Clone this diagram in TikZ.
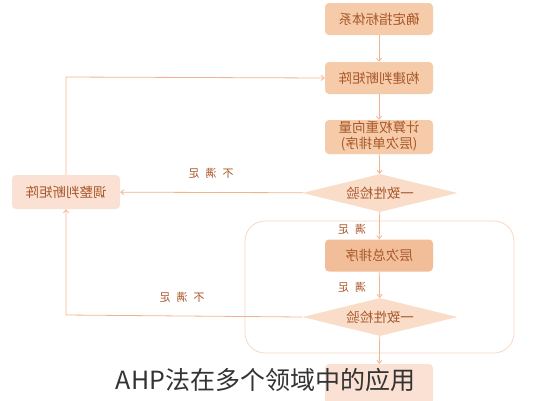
\documentclass[tikz,border=0pt]{standalone}
\usepackage{fontspec}
\setmainfont{Noto Sans CJK SC}
\newfontfamily\cjk{Noto Sans CJK SC}
\usetikzlibrary{shapes.geometric,arrows.meta}
\definecolor{boxfill}{HTML}{F5CBA9}
\definecolor{boxdark}{HTML}{F2BE99}
\definecolor{diafill}{HTML}{FADDC9}
\definecolor{leftfill}{HTML}{FBE1D3}
\definecolor{linecol}{HTML}{F0B48E}
\definecolor{framecol}{HTML}{F7D8C4}
\definecolor{txtcol}{HTML}{A9582A}
\definecolor{capcol}{HTML}{333333}
\tikzset{
  stepbox/.style={rectangle, rounded corners=4pt, fill=boxfill, minimum width=108pt, minimum height=32pt, inner sep=0pt, text=txtcol, font=\cjk\fontsize{13.5}{16}\selectfont},
  decision/.style={diamond, aspect=4.2, fill=diafill, minimum width=155pt, minimum height=38pt, inner sep=0pt, text=txtcol, font=\cjk\fontsize{13.5}{16}\selectfont},
  flow/.style={draw=linecol, line width=0.8pt, -{Straight Barb[length=3pt,width=5pt]}},
  lbl/.style={text=txtcol, font=\cjk\fontsize{11}{13}\selectfont, inner sep=0pt},
  frame/.style={draw=framecol, line width=0.8pt, rounded corners=20pt}
}
\begin{document}
\begin{tikzpicture}[x=1pt,y=-1pt]
\useasboundingbox (0,0) rectangle (533,400);
\clip (0,0) rectangle (533,400);
% big frame
\draw[frame] (245,221) rectangle (514,353);
% nodes
\node[stepbox] (n1) at (379,19) {\reflectbox{确定指标体系}};
\node[stepbox] (n2) at (379,78) {\reflectbox{构建判断矩阵}};
\node[stepbox, minimum height=34pt] (n3) at (379,137) {\reflectbox{\begin{tabular}{@{}c@{}}计算权重向量\\(层次单排序)\end{tabular}}};
\node[decision] (d1) at (380,193) {\reflectbox{一致性检验}};
\node[stepbox, fill=boxdark] (n4) at (379,255.5) {\reflectbox{层次总排序}};
\node[decision] (d2) at (380,317) {\reflectbox{一致性检验}};
\node[stepbox, fill=leftfill, minimum height=34pt] (adj) at (66,192) {\reflectbox{调整判断矩阵}};
\node[stepbox, fill=leftfill, minimum height=40pt] (n5) at (379,384) {};
% corner coordinates
\coordinate (c1) at (66,77);
\coordinate (c2) at (66,315);
% connectors
\draw[flow] (n1) -- (n2);
\draw[flow] (n2) -- (n3);
\draw[flow] (n3) -- (d1);
\draw[flow] (d1) -- (n4);
\draw[flow] (n4) -- (d2);
\draw[flow] (d2) -- (n5);
\draw[flow] (d1) -- (adj);
\draw[flow] (adj.north) -- (c1) -- (n2.west);
\draw[flow] (d2.west) -- (c2) -- (adj.south);
% labels
\node[lbl] (l1) at (211,173) {\reflectbox{不\hspace{6pt}满\hspace{6pt}足}};
\node[lbl] (l2) at (182,297) {\reflectbox{不\hspace{6pt}满\hspace{6pt}足}};
\node[lbl] (l3) at (352,229) {\reflectbox{满\hspace{6pt}足}};
\node[lbl] (l4) at (352,287) {\reflectbox{满\hspace{6pt}足}};
% caption
\node[text=capcol, font=\cjk\fontsize{25}{28}\selectfont, inner sep=0pt] (cap) at (265.5,380) {AHP法在多个领域中的应用};
\end{tikzpicture}
\end{document}
